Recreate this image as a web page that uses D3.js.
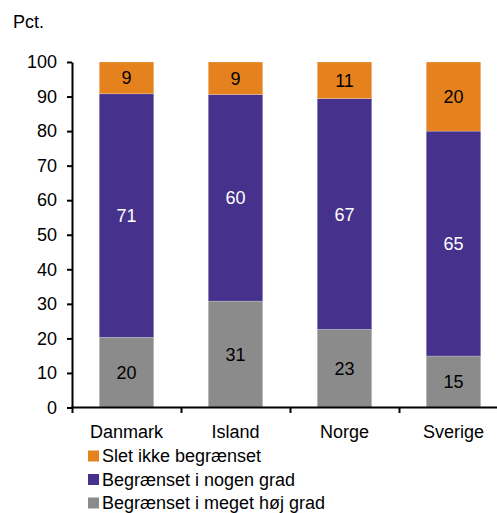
<!DOCTYPE html>
<html><head><meta charset="utf-8">
<script src="https://cdn.jsdelivr.net/npm/d3@7"></script>
<style>body{margin:0;background:#fff}svg{display:block}text{font-family:"Liberation Sans",Arial,sans-serif}</style>
</head><body>
<script>
const categories = ["Danmark", "Island", "Norge", "Sverige"];
const seriesNames = ["Begrænset i meget høj grad", "Begrænset i nogen grad", "Slet ikke begrænset"];
const hoejGrad = [20.3, 30.8, 22.6, 14.9];
const nogenGrad = [70.5, 59.8, 66.8, 65.1];
const sletIkke = [9.2, 9.4, 10.6, 20.0];
const yTicks = [0, 10, 20, 30, 40, 50, 60, 70, 80, 90, 100];
const colors = ["#8b8b8b", "#46328c", "#e6821e"];

const W = 497, H = 513;
const svg = d3.select("body").append("svg").attr("width", W).attr("height", H);
const x = d3.scaleBand().domain(categories).range([72, 508]).paddingInner(0.5).paddingOuter(0.25);
const y = d3.scaleLinear().domain([0, 100]).range([407.5, 62]);

const rows = categories.map((c, i) => ({cat: c, s0: hoejGrad[i], s1: nogenGrad[i], s2: sletIkke[i]}));
const stack = d3.stack().keys(["s0", "s1", "s2"])(rows);

stack.forEach((layer, li) => {
  const g = svg.append("g");
  g.selectAll("rect").data(layer).enter().append("rect")
    .attr("x", d => x(d.data.cat)).attr("width", x.bandwidth())
    .attr("y", d => y(d[1])).attr("height", d => y(d[0]) - y(d[1]))
    .attr("fill", colors[li]).attr("stroke", "#fff").attr("stroke-opacity", 0.35).attr("stroke-width", 0.6);
  g.selectAll("text").data(layer).enter().append("text")
    .attr("x", d => x(d.data.cat) + x.bandwidth() / 2)
    .attr("y", d => (y(d[0]) + y(d[1])) / 2).attr("dy", "0.36em")
    .attr("text-anchor", "middle").attr("font-size", 18).attr("fill", li === 1 ? "#fff" : "#000")
    .text(d => Math.round(d[1] - d[0]));
});

// y axis
const ya = svg.append("g").attr("transform", "translate(72,0)")
  .call(d3.axisLeft(y).tickValues(yTicks).tickSize(5).tickPadding(10).tickSizeOuter(0));
ya.select(".domain").attr("stroke", "#000").attr("stroke-width", 2);
ya.selectAll(".tick line").attr("stroke", "#000").attr("stroke-width", 2);
ya.selectAll(".tick text").attr("font-size", 18).attr("fill", "#000").attr("font-family", "Liberation Sans, Arial, sans-serif");

// x axis
const xa = svg.append("g").attr("transform", "translate(0,407.5)");
xa.append("line").attr("x1", 71).attr("x2", 508).attr("stroke", "#000").attr("stroke-width", 2);
const step = x.step();
const tickPos = categories.map((c, i) => 72 + i * step + 0.5);
xa.selectAll("line.t").data(tickPos.concat([72 + 4 * step])).enter().append("line").attr("class", "t")
  .attr("x1", d => d).attr("x2", d => d).attr("y1", 0).attr("y2", 5.5)
  .attr("stroke", "#000").attr("stroke-width", 2);
xa.selectAll("text").data(categories).enter().append("text")
  .attr("x", d => x(d) + x.bandwidth() / 2).attr("y", 30)
  .attr("text-anchor", "middle").attr("font-size", 18).attr("fill", "#000").text(d => d);

svg.append("text").attr("x", 13).attr("y", 28).attr("font-size", 18).attr("fill", "#000").text("Pct.");

// legend
const legendOrder = [2, 1, 0];
const lg = svg.append("g");
legendOrder.forEach((si, k) => {
  const cy = 456 + k * 23.5;
  lg.append("rect").attr("x", 88).attr("y", cy - 5.5).attr("width", 11).attr("height", 11).attr("fill", colors[si]);
  lg.append("text").attr("x", 102).attr("y", cy).attr("dy", "0.36em").attr("font-size", 18).attr("fill", "#000").text(seriesNames[si]);
});
</script>
</body></html>
